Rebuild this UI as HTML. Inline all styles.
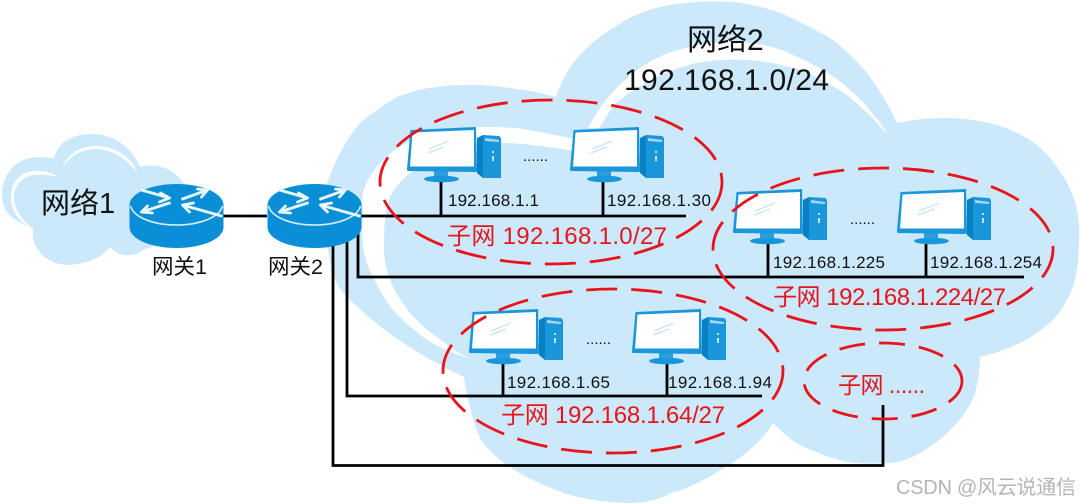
<!DOCTYPE html>
<html><head><meta charset="utf-8"><style>
html,body{margin:0;padding:0;background:#fff;width:1080px;height:504px;overflow:hidden}
svg{display:block}
text{font-family:"Liberation Sans","Noto Sans CJK SC",sans-serif}
</style></head><body>
<svg width="1080" height="504" viewBox="0 0 1080 504" xmlns="http://www.w3.org/2000/svg">
<defs>
<g id="pc">
  <path d="M70 11 L76 8 L76 51 L70 46 Z" fill="#0a80c4"/>
  <path d="M76 8 L92 9 Q94 10 94 12 L94 51 L76 51 Z" fill="#1a96da"/>
  <path d="M78 11 L92 13 L92 15 L78 14 Z" fill="#a9d8f2"/>
  <path d="M85 24 H87 V26 H85Z M85 29 H87 V34 H85Z" fill="#bfe3f6"/>
  <path d="M27 44 H41 V50 H27Z" fill="#2b9fdd"/>
  <ellipse cx="34.500" cy="52" rx="17.500" ry="3.300" fill="#1a96da"/>
  <path d="M3.500 3 L69 0 L70 44 Q70 45 68 45 L1 44 Q0 44 0 42 Z" fill="#1a96da"/>
  <path d="M5.500 5.500 L67 3 L67 39.500 L3 39.500 Z" fill="#fff"/>
  <path d="M27 19 L47 11 M26 23 L42 17" stroke="#bcdff2" stroke-width="1" fill="none" transform="translate(-5,3)"/>
</g>
<g id="router">
  <path d="M0 21 V43 C0 55 21 64 47 64 C73 64 94 55 94 43 V21 Z" fill="#0a8fd6"/>
  <ellipse cx="47" cy="21" rx="47" ry="21" fill="#0a8fd6"/>
  <path d="M1 22 C4 33 23 41 47 41 C71 41 90 33 93 22" fill="none" stroke="#d5edfa" stroke-width="1.500"/>
  <g fill="none" stroke="#e8f6fd" stroke-width="2.800" stroke-linecap="round">
    <path d="M12 6 L40 14 M40 14 L31 9 M40 14 L30 18"/>
    <path d="M40 19 L12 28 M12 28 L23 29 M12 28 L18 22"/>
    <path d="M53 15 L78 6 M78 6 L68 5 M78 6 L72 13"/>
    <path d="M92 32 L53 21 M53 21 L60 28 M53 21 L64 19"/>
  </g>
</g>
</defs>

<!-- Cloud 1 -->
<path d="M33 228 C16 222 2 214 2 195 C2 172 18 158 36 157 C44 157 50 158 54 158 C58 142 72 134 92 134 C114 134 132 148 140 167 C158 162 176 170 185 185 L185 235 L143 250 C138 254 130 256 124 255 C118 254 113 250 110 247 C104 256 86 265 67 265 C48 264 30 250 33 228 Z" fill="#cbe9fb"/>
<path d="M33 229 C18 222 9 208 11 193 C13 178 26 170 38 171 C46 171 53 173 58 177 C50 175 42 174 34 175 C24 176 15 184 14 195 C13 208 22 220 33 229 Z" fill="#fff"/>
<path d="M63 167 C68 153 82 146 96 146 C116 146 132 158 137 172 C128 160 112 149 96 149 C82 149 70 156 63 167 Z" fill="#fff"/>

<!-- Cloud 2 -->
<path d="M464 377 L460 375 C425 358 385 335 347 297 C335 285 330 270 327 240 C324 215 324 198 327 183 C332 170 336 160 340 153 C346 142 352 132 360 123 C372 113 385 104 397 97 C410 92 425 88 437 87 C450 85 462 85 473 85 C486 85 498 86 510 88 C527 90 542 93 556 97 C562 78 572 62 585 50 C598 37 612 28 626 20 C645 10 660 6 678 4 C700 1 715 1 733 2 C750 4 766 8 781 13 C800 22 820 32 833 40 C846 50 858 62 867 73 C880 90 890 108 897 123 C915 119 932 118 947 118 C965 118 982 121 997 125 C1010 129 1020 134 1030 140 C1042 148 1050 157 1057 167 C1068 182 1074 196 1077 210 C1079 220 1080 230 1079 240 C1079 258 1077 273 1073 287 C1068 300 1061 311 1053 320 C1043 329 1032 337 1020 343 C1007 349 993 354 980 357 C980 370 978 382 975 393 C970 407 962 418 953 427 C944 437 932 446 920 453 C910 459 900 462 890 463 C875 464 860 464 847 462 C830 458 815 452 800 445 C792 441 782 432 773 423 C763 440 745 456 724 468 C708 478 690 488 671 493 C658 500 645 503 632 503 C610 503 585 500 564 493 C545 486 526 478 510 467 C497 458 488 450 481 440 C472 420 467 398 464 377 Z" fill="#cbe9fb"/>
<path d="M588 128 C600 105 615 88 633 73 C648 62 662 54 678 50 C695 45 712 42 730 42 C750 42 766 45 782 50 C800 58 818 66 834 77 C848 87 862 100 872 113 C878 120 884 128 888 135 C875 120 860 105 844 93 C830 84 816 76 800 70 C783 65 765 61 748 60 C730 59 712 60 696 63 C680 67 664 73 651 80 C638 87 626 95 616 103 C609 112 604 120 599 128 Z" fill="#fff"/>
<path d="M580 140 C560 136 540 132 517 128 C505 127 490 127 477 127 C455 128 430 133 407 143 C396 148 388 155 380 163 C372 172 366 182 363 193 C362 200 362 206 363 213 C362 225 362 236 363 247 C365 258 368 268 373 277 C379 289 385 300 393 310 C403 321 415 331 427 340 C440 348 455 354 468 358 C457 352 447 345 437 337 C427 330 418 322 410 313 C402 303 395 292 390 280 C386 270 384 258 384 247 C384 238 384 229 385 220 C386 210 388 201 392 193 C396 186 403 179 410 173 C430 158 455 146 483 143 C510 141 550 147 580 152 Z" fill="#fff"/>

<!-- connectors -->
<g fill="none" stroke="#000" stroke-width="2.800">
  <path d="M223 216 H267"/>
  <path d="M361 216 H686 M441 180 V216 M603 180 V216"/>
  <path d="M358 225 V277 H1024 M768 243 V277 M926 243 V277"/>
  <path d="M347 235 V396 H762 M503 363 V396 M667 363 V396"/>
  <path d="M333 235 V465.500 H883 V405"/>
</g>

<!-- routers -->
<use href="#router" x="129.500" y="184"/>
<use href="#router" x="267.500" y="184"/>

<!-- computers -->
<use href="#pc" x="407" y="127"/>
<use href="#pc" x="570" y="127"/>
<use href="#pc" x="733" y="189"/>
<use href="#pc" x="897" y="189"/>
<use href="#pc" x="469" y="309"/>
<use href="#pc" x="632" y="309"/>

<!-- ellipses -->
<g fill="none" stroke="#e8141c" stroke-width="2.800" stroke-dasharray="31 14">
  <ellipse cx="551" cy="182" rx="171" ry="82"/>
  <ellipse cx="883" cy="249" rx="170" ry="81"/>
  <ellipse cx="613" cy="371" rx="170" ry="82"/>
  <ellipse cx="883" cy="381" rx="79" ry="38" stroke-dasharray="26 14"/>
</g>

<!-- labels -->
<g fill="#111">
  <text x="41" y="213" font-size="29">网络1</text>
  <text x="152" y="274" font-size="21.500">网关1</text>
  <text x="268" y="274" font-size="21.500">网关2</text>
  <text x="687" y="50" font-size="30">网络2</text>
  <text x="624" y="90" font-size="30" textLength="205">192.168.1.0/24</text>
  <g font-size="17">
    <text x="448" y="206" textLength="91">192.168.1.1</text>
    <text x="607" y="206" textLength="104">192.168.1.30</text>
    <text x="773" y="268" textLength="112">192.168.1.225</text>
    <text x="930" y="268" textLength="112">192.168.1.254</text>
    <text x="507" y="388" textLength="103">192.168.1.65</text>
    <text x="668" y="388" textLength="104">192.168.1.94</text>
  </g>
  <text x="523" y="161" font-size="15">......</text>
  <text x="850" y="224" font-size="15">......</text>
  <text x="586" y="344" font-size="15">......</text>
</g>
<g fill="#e8141c" font-size="24">
  <text x="447" y="244" textLength="220">子网 192.168.1.0/27</text>
  <text x="773" y="305" textLength="233">子网 192.168.1.224/27</text>
  <text x="501" y="423" textLength="224">子网 192.168.1.64/27</text>
  <text x="838" y="393" font-size="23" textLength="87">子网 ......</text>
</g>
<text x="896" y="494" font-size="20" fill="#b5b5b5" textLength="180">CSDN @风云说通信</text>
</svg>
</body></html>
